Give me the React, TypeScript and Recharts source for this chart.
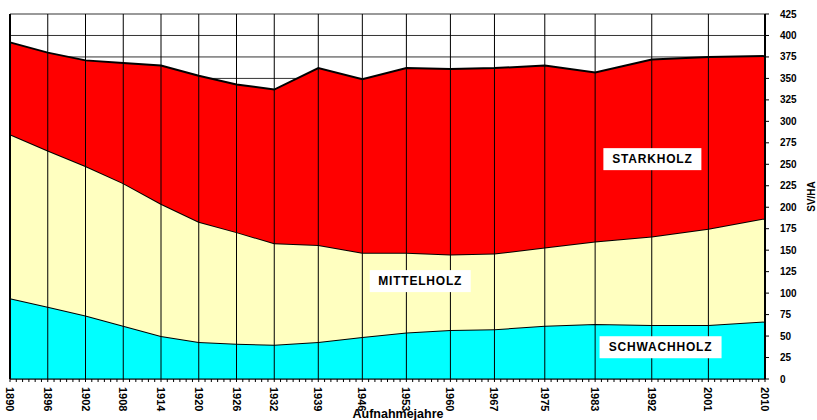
import React from "react";
import { AreaChart, Area, XAxis, YAxis, CartesianGrid, ReferenceLine, ReferenceDot, Label } from "recharts";

// Aufnahmejahre (survey years)
const years = [1890, 1896, 1902, 1908, 1914, 1920, 1926, 1932, 1939, 1946, 1953, 1960, 1967, 1975, 1983, 1992, 2001, 2010];

// stand volume per ha, by diameter class (stacked bottom -> top)
const schwachholz = [94, 84, 74, 62, 50, 43, 41, 40, 43, 49, 54, 57, 58, 62, 64, 63, 63, 67];
const mittelholz = [191, 182, 174, 166, 154, 140, 130, 118, 113, 98, 93, 88, 88, 91, 96, 103, 112, 120];
const starkholz = [107, 114, 123, 140, 161, 170, 172, 179, 206, 202, 215, 216, 216, 212, 197, 206, 200, 189];

const yTicks = [0, 25, 50, 75, 100, 125, 150, 175, 200, 225, 250, 275, 300, 325, 350, 375, 400, 425];

// one small tick per year on the x axis
const yearTicks: number[] = [];
for (let y = 1890; y <= 2010; y++) yearTicks.push(y);

const data = years.map((year, i) => ({
  year,
  schwach: schwachholz[i],
  mittel: mittelholz[i],
  stark: starkholz[i],
}));

const FONT = "'Liberation Sans', Arial, sans-serif";

const YearTick = ({ x, y, payload }: any) => {
  if (!years.includes(payload.value)) return <g />;
  const ty = y + 3;
  return (
    <text
      x={x}
      y={ty}
      transform={`rotate(90 ${x} ${ty})`}
      textAnchor="start"
      dominantBaseline="central"
      fontFamily={FONT}
      fontWeight="bold"
      fontSize={11}
      fill="#000"
    >
      {payload.value}
    </text>
  );
};

const BoxLabel = ({ cx, cy, text, w }: any) => (
  <g>
    <rect x={cx - w / 2} y={cy - 11} width={w} height={22} fill="#fff" />
    <text
      x={cx}
      y={cy}
      textAnchor="middle"
      dominantBaseline="central"
      fontFamily={FONT}
      fontWeight="bold"
      fontSize={12}
      letterSpacing={0.8}
      fill="#000"
    >
      {text}
    </text>
  </g>
);

export default function App() {
  return (
    <div style={{ position: "absolute", left: 0, top: 0, width: 817, height: 420, background: "#fff" }}>
      <AreaChart width={817} height={420} data={data} margin={{ top: 14, right: 0, left: 10, bottom: 0 }}>
        <CartesianGrid vertical={false} stroke="#000" strokeOpacity={0.8} />
        <XAxis
          dataKey="year"
          type="number"
          domain={[1890, 2010]}
          ticks={yearTicks}
          interval={0}
          tick={<YearTick />}
          tickSize={3}
          height={41}
          stroke="#000"
        >
          <Label
            content={() => (
              <text x={398} y={418} textAnchor="middle" fontFamily={FONT} fontWeight="bold" fontSize={12.5} fill="#000">
                Aufnahmejahre
              </text>
            )}
          />
        </XAxis>
        <YAxis
          orientation="right"
          domain={[0, 425]}
          ticks={yTicks}
          interval={0}
          width={52}
          tickSize={4}
          tickMargin={11}
          stroke="#000"
          tick={{ fontFamily: FONT, fontWeight: "bold", fontSize: 10, fill: "#000", textAnchor: "start" }}
        >
          <Label
            value="SV/HA"
            angle={-90}
            position="insideRight"
            offset={6}
            style={{ fontFamily: FONT, fontWeight: "bold", fontSize: 10, fill: "#000", textAnchor: "middle" }}
          />
        </YAxis>
        <Area type="linear" dataKey="schwach" stackId="1" fill="#00FFFF" fillOpacity={1} stroke="#000" strokeWidth={2} dot={false} activeDot={false} isAnimationActive={false} />
        <Area type="linear" dataKey="mittel" stackId="1" fill="#FFFFC0" fillOpacity={1} stroke="#000" strokeWidth={2} dot={false} activeDot={false} isAnimationActive={false} />
        <Area type="linear" dataKey="stark" stackId="1" fill="#FF0000" fillOpacity={1} stroke="#000" strokeWidth={2} dot={false} activeDot={false} isAnimationActive={false} />
        {years.map((yr) => (
          <ReferenceLine key={yr} x={yr} stroke="#000" strokeWidth={yr === 1890 || yr === 2010 ? 2 : 1} />
        ))}
        <ReferenceDot x={1992.1} y={256} r={0} shape={(p: any) => <BoxLabel {...p} text="STARKHOLZ" w={98} />} />
        <ReferenceDot x={1955.2} y={114} r={0} shape={(p: any) => <BoxLabel {...p} text="MITTELHOLZ" w={101} />} />
        <ReferenceDot x={1993.4} y={37} r={0} shape={(p: any) => <BoxLabel {...p} text="SCHWACHHOLZ" w={122} />} />
      </AreaChart>
    </div>
  );
}
